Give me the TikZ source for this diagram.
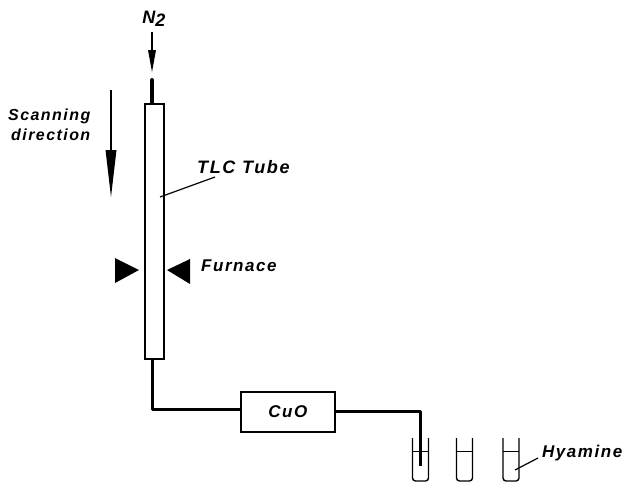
\documentclass[tikz,border=0pt]{standalone}
\usepackage{fontspec}
\setsansfont[LetterSpace=9]{Liberation Sans}
\begin{document}
\begin{tikzpicture}[x=1pt,y=-1pt,
  lbl/.style={font=\sffamily\bfseries\itshape\fontsize{17}{20}\selectfont,inner sep=0pt,align=left,text=black},
  wall/.style={draw=black,line width=1.7pt},
  pipe/.style={draw=black,line width=3pt,line join=round},
  thin line/.style={draw=black,line width=1.2pt},
  glass/.style={draw=black,line width=1.4pt,rounded corners=3pt},
  solid tri/.style={fill=black,draw=none}]
\useasboundingbox (0,0) rectangle (627,483);
% tube
\node[wall,minimum width=19pt,minimum height=255pt,inner sep=0pt,anchor=north west] (tube) at (144,103) {};
\coordinate (stubtop) at (152,80);
\coordinate (stubbot) at (152,103);
\draw[draw=black,line width=4pt,line cap=round] (stubtop) -- (stubbot);
% N2
\node[lbl,anchor=center,font=\sffamily\bfseries\itshape\fontsize{18}{20}\selectfont] (n2) at (154,19) {N\raisebox{-3pt}{2}};
\coordinate (nA) at (152,32);
\coordinate (nB) at (152,52);
\coordinate (nC) at (152,72);
\draw[thin line,line width=1.6pt] (nA) -- (nB);
\fill (148,50) -- (156,50) -- (nC) -- cycle;
% scanning
\node[lbl,anchor=north west,font=\sffamily\bfseries\itshape\fontsize{16}{20}\selectfont] (scan) at (8,109) {Scanning\\\hspace*{3pt}direction};
\coordinate (sA) at (111,90);
\coordinate (sB) at (111,155);
\coordinate (sC) at (111,197);
\draw[thin line] (sA) -- (sB);
\fill (105.5,150) -- (116.5,150) -- (sC) -- cycle;
% TLC
\node[lbl,anchor=west,font=\sffamily\bfseries\itshape\fontsize{18}{20}\selectfont] (tlc) at (197,167) {TLC Tube};
\coordinate (tlA) at (215,177);
\coordinate (tlB) at (160,197);
\draw[thin line] (tlA) -- (tlB);
% furnace
\fill[solid tri] (115,258) -- (139,270) -- (115,283) -- cycle;
\fill[solid tri] (190,259) -- (167,270) -- (190,284) -- cycle;
\node[lbl,anchor=west] (furn) at (201,266) {Furnace};
% CuO
\node[wall,minimum width=94pt,minimum height=40pt,inner sep=0pt,anchor=north west,lbl,line width=1.7pt] (cuo) at (240,391) {CuO};
\coordinate (p1) at (152,409);
\coordinate (p2) at (420,411);
\coordinate (p3) at (420,466);
\draw[pipe] (tube.south -| p1) -- (p1) -- (p1 -| cuo.west);
\draw[pipe] (p2 -| cuo.east) -- (p2) -- (p3);
% absorbers
\foreach \nm/\xa/\xb in {a/412.5/428.5,b/456.5/472.5,c/503/519}{
  \draw[glass] (\xa,438) -- (\xa,481) -- (\xb,481) -- (\xb,438);
  \draw[thin line,line width=1pt] (\xa,451) -- (\xb,451);
}
% hyamine
\node[lbl,anchor=west] (hy) at (542,453) {Hyamine};
\coordinate (hyA) at (538,458);
\coordinate (hyB) at (515,470);
\draw[thin line] (hyA) -- (hyB);
\end{tikzpicture}
\end{document}
